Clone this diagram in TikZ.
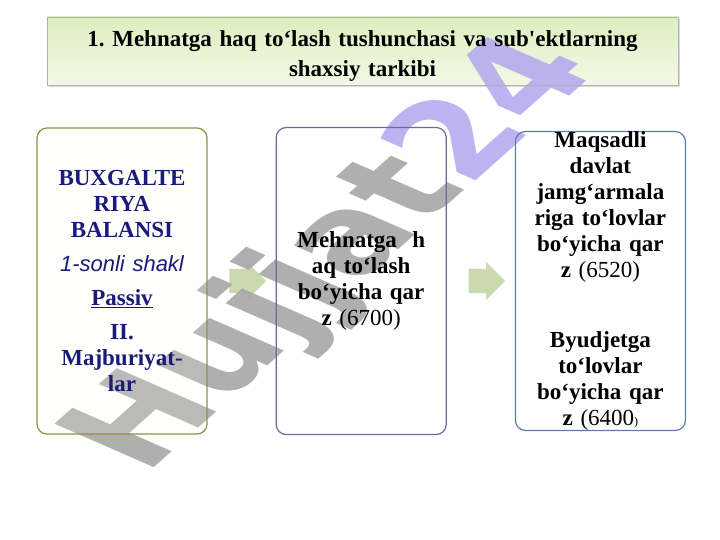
\documentclass[tikz,border=0pt]{standalone}
\usepackage{fontspec}
\setmainfont{Liberation Serif}
\newfontfamily\markfont{Liberation Sans}
\newfontfamily\stampfont{DejaVu Sans}
\usepackage{xcolor}
\usetikzlibrary{shapes.arrows,positioning,shadows,calc}

\definecolor{navytext}{HTML}{1A1A7A}
\definecolor{titletop}{HTML}{DDEEC0}
\definecolor{titlebot}{HTML}{F2F9E6}
\definecolor{oliveline}{HTML}{8F8F48}
\definecolor{slateline}{HTML}{6A6A9E}
\definecolor{blueline}{HTML}{5A7CB4}
\definecolor{arrowgreen}{HTML}{CBDAAD}
\definecolor{markgray}{HTML}{A6A6A6}
\definecolor{marklilac}{HTML}{B6ABEE}

\pgfdeclarelayer{back}
\pgfdeclarelayer{stamp}
\pgfsetlayers{back,stamp,main}

\begin{document}
\frenchspacing
\begin{tikzpicture}[
    x=1pt, y=-1pt,
    title/.style={rectangle, draw=gray!60, minimum width=631pt, minimum height=62pt, text width=620pt, align=center, font=\fontsize{23}{30}\selectfont\bfseries},
    titlefill/.style={top color=titletop, bottom color=titlebot, drop shadow={opacity=0.3, shadow xshift=2pt, shadow yshift=-2pt}},
    colbox/.style={rectangle, draw, rounded corners=10pt, line width=1.2pt, minimum width=170pt, text width=160pt, align=center, inner sep=0pt, font=\fontsize{23}{26}\selectfont\bfseries},
    flow/.style={single arrow, draw=none, fill=arrowgreen, inner sep=12pt, minimum height=36pt, single arrow head extend=7pt}
]
\useasboundingbox (0,0) rectangle (720,540);

% Nodes
\node[title] (head) at (362.5,51) {\rule{0pt}{26pt}1. Mehnatga haq to‘lash tushunchasi va sub\textquotesingle ektlarning\\shaxsiy tarkibi};
\node[colbox, draw=oliveline, fill=yellow!5, fill opacity=0.15, text opacity=1, minimum height=306pt, text=navytext] (balans) at (122,281) {BUXGALTE\\RIYA\\BALANSI\\[8pt]{\markfont\mdseries\itshape\fontsize{22}{26}\selectfont 1-sonli shakl}\\[8pt]\underline{Passiv}\\[8pt]II.\\Majburiyat-\\lar};
\node[colbox, draw=slateline, minimum height=307pt, right=68pt of balans] (mehnat) {Mehnatga~~h\\aq to‘lash\\bo‘yicha qar\\z {\mdseries(6700)}};
\node[colbox, draw=blueline, minimum height=297pt, right=68pt of mehnat] (qarz) {Maqsadli\\davlat\\jamg‘armala\\riga to‘lovlar\\bo‘yicha qar\\z {\mdseries(6520)}\\[44pt]Byudjetga\\to‘lovlar\\bo‘yicha qar\\z {\mdseries(6400{\fontsize{12}{12}\selectfont)}}};

% Arrows and title background
\begin{pgfonlayer}{back}
\path[titlefill] (head.north west) rectangle (head.south east);
\node[flow] (arr1) at ($(balans.east)!0.5!(mehnat.west)$) {};
\node[flow] (arr2) at ($(mehnat.east)!0.5!(qarz.west)$) {};
\end{pgfonlayer}

% Watermark
\begin{pgfonlayer}{stamp}
\begin{scope}[shift={(336,256)}, xscale=1.6, rotate=55]
\node[transform shape, font=\stampfont\bfseries\fontsize{104}{104}\selectfont, text=markgray, opacity=0.9] (mark) at (0,0) {Hujjat\textcolor{marklilac}{24}};
\end{scope}
\end{pgfonlayer}

\end{tikzpicture}
\end{document}
